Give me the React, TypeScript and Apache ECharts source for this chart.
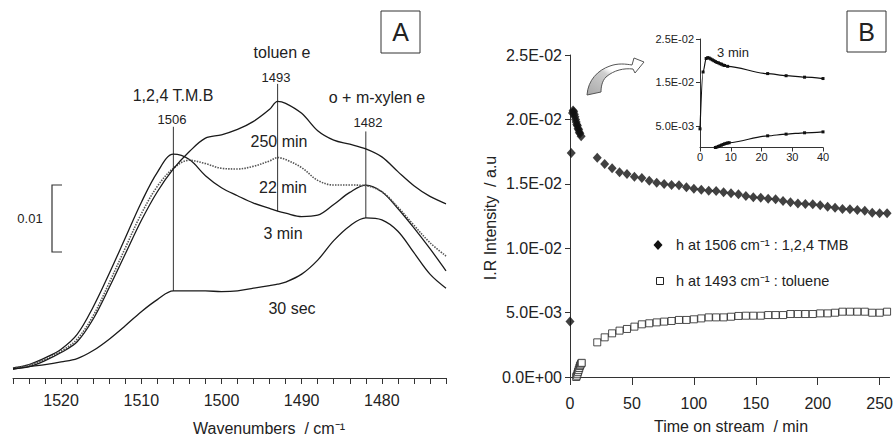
import React, { useEffect, useRef } from 'react';
import * as echarts from 'echarts';

// ---------- Panel A : IR spectra ----------
const wavenumbers = [1526, 1524, 1522, 1520, 1518, 1516, 1514, 1512, 1510, 1508, 1506, 1504, 1502, 1500, 1498, 1496, 1494, 1493, 1492, 1490, 1488, 1486, 1484, 1482, 1480, 1478, 1476, 1474, 1472];
const spec30sec = [0.0013, 0.0017, 0.0020, 0.0024, 0.0029, 0.0041, 0.0058, 0.0078, 0.0099, 0.0117, 0.0130, 0.0130, 0.0130, 0.0129, 0.0130, 0.0134, 0.0138, 0.0140, 0.0143, 0.0155, 0.0176, 0.0205, 0.0227, 0.0239, 0.0236, 0.0219, 0.0187, 0.0155, 0.0134];
const spec3min = [0.0015, 0.0020, 0.0030, 0.0043, 0.0065, 0.0106, 0.0156, 0.0209, 0.0262, 0.0307, 0.0334, 0.0326, 0.0302, 0.0284, 0.0272, 0.0261, 0.0253, 0.0249, 0.0246, 0.0241, 0.0243, 0.0259, 0.0277, 0.0288, 0.0278, 0.0253, 0.0224, 0.0193, 0.0160];
const spec22min = [0.0015, 0.0019, 0.0028, 0.0040, 0.0058, 0.0093, 0.0142, 0.0194, 0.0245, 0.0286, 0.0313, 0.0325, 0.0320, 0.0313, 0.0312, 0.0316, 0.0324, 0.0329, 0.0326, 0.0314, 0.0295, 0.0288, 0.0288, 0.0287, 0.0278, 0.0255, 0.0228, 0.0202, 0.0182];
const spec250min = [0.0014, 0.0017, 0.0026, 0.0038, 0.0054, 0.0088, 0.0135, 0.0185, 0.0235, 0.0278, 0.0312, 0.0338, 0.0358, 0.0363, 0.0371, 0.0383, 0.0401, 0.0413, 0.0410, 0.0395, 0.0369, 0.0355, 0.0349, 0.0342, 0.0330, 0.0308, 0.0287, 0.0271, 0.0260];
const peakPositions = [1506, 1493, 1482];
const peakLineTop = [0.0375, 0.0439, 0.0368];
const peakLineBottom = [0.0130, 0.0249, 0.0239];

// ---------- Panel B : intensity vs time (values in units of 1e-3) ----------
const tmbEarlyTimes = [0, 1, 2, 2.5, 3, 3.5, 4, 4.5, 5, 5.5, 6, 6.5, 7, 7.5, 8, 9];
const tmbEarly = [4.3, 17.4, 20.5, 20.7, 20.6, 20.4, 20.2, 20.0, 19.8, 19.6, 19.5, 19.3, 19.2, 19.0, 18.9, 18.7];
const tolEarlyTimes = [5, 5.5, 6, 6.5, 7, 7.5, 8, 8.5, 9, 9.5];
const tolEarly = [0.0, 0.1, 0.25, 0.4, 0.55, 0.7, 0.85, 0.95, 1.05, 1.1];
const mainTimes = [22, 28, 34, 40, 46, 52, 58, 64, 70, 76, 82, 88, 94, 100, 106, 112, 118, 124, 130, 136, 142, 148, 154, 160, 166, 172, 178, 184, 190, 196, 202, 208, 214, 220, 226, 232, 238, 244, 250, 256];
const tmbMain = [17.03, 16.54, 16.20, 15.89, 15.76, 15.55, 15.45, 15.24, 15.09, 14.98, 14.91, 14.88, 14.73, 14.62, 14.54, 14.47, 14.44, 14.34, 14.26, 14.18, 14.05, 13.95, 13.92, 13.84, 13.80, 13.66, 13.56, 13.48, 13.43, 13.41, 13.33, 13.22, 13.14, 13.04, 13.02, 12.97, 12.91, 12.76, 12.71, 12.71];
const tolMain = [2.69, 3.08, 3.39, 3.60, 3.73, 3.91, 4.09, 4.17, 4.24, 4.30, 4.35, 4.43, 4.43, 4.48, 4.55, 4.63, 4.63, 4.63, 4.68, 4.74, 4.76, 4.76, 4.76, 4.81, 4.81, 4.81, 4.89, 4.89, 4.89, 4.89, 4.94, 4.94, 4.99, 5.07, 5.07, 5.07, 5.07, 4.99, 4.99, 5.07];
const timeTicks = [0, 50, 100, 150, 200, 250];
const insetYTicks = [0.005, 0.015, 0.025];

const FONT = "'Liberation Sans', Arial, sans-serif";
const INK = '#222';

const ARROW_D = 'M7 45 C8 30 18 20 30 16 C38 13 46 14 52 15 L54 8 L64 12 L55 23 L53 19 C44 18 34 20 26 27 C22 31 21 37 21 42 Z';
try {
  echarts.graphic.registerShape('bentArrow', echarts.graphic.extendPath(ARROW_D, {}) as any);
} catch (e) {
  /* already registered */
}

const sci = (v: number) => {
  if (Math.abs(v) < 1e-12) return '0.0E+00';
  const e = Math.floor(Math.log10(Math.abs(v)) + 1e-9);
  const m = v / Math.pow(10, e);
  return m.toFixed(1) + 'E' + (e < 0 ? '-' : '+') + String(Math.abs(e)).padStart(2, '0');
};

const pairs = (xs: number[], ys: number[], k = 1) => xs.map((x, i) => [x, ys[i] * k]);

const txt = (text: string, x: number, y: number, size: number, extra: any = {}) => ({
  type: 'text',
  x,
  y,
  z: 20,
  style: { text, fill: INK, fontSize: size, fontFamily: FONT, align: 'center', verticalAlign: 'middle', ...extra },
});

export default function App() {
  const ref = useRef<HTMLDivElement>(null);

  useEffect(() => {
    document.body.style.margin = '0';
    const chart = echarts.init(ref.current!, null, { renderer: 'svg' });

    const specLine = (name: string, arr: number[], dotted = false) => ({
      name,
      type: 'line',
      xAxisIndex: 0,
      yAxisIndex: 0,
      data: pairs(wavenumbers, arr),
      showSymbol: false,
      smooth: 0.35,
      lineStyle: dotted ? { color: '#555', width: 1.6, type: [1.5, 1.2] } : { color: '#1a1a1a', width: 1.3 },
      z: 3,
    });

    const tmbAll = [...pairs(tmbEarlyTimes, tmbEarly, 1e-3), ...pairs(mainTimes, tmbMain, 1e-3)];
    const tolAll = [...pairs(tolEarlyTimes, tolEarly, 1e-3), ...pairs(mainTimes, tolMain, 1e-3)];

    const axisLineStyle = { show: true, lineStyle: { color: '#333', width: 1 } };

    const option: any = {
      animation: false,
      textStyle: { fontFamily: FONT, color: INK },
      grid: [
        { left: 13, top: 43, width: 433, height: 335 },
        { left: 570, top: 55, width: 322, height: 322 },
        { left: 700, top: 39, width: 123, height: 108.5 },
      ],
      xAxis: [
        {
          gridIndex: 0, type: 'value', min: 1472, max: 1526, interval: 2, inverse: true,
          axisLine: axisLineStyle,
          axisTick: { show: true, length: 6, lineStyle: { color: '#333' } },
          axisLabel: { fontSize: 16, color: INK, margin: 14, formatter: (v: number) => (v % 10 === 0 ? String(v) : '') },
          splitLine: { show: false },
        },
        {
          gridIndex: 1, type: 'value', min: 0, max: 258,
          axisLine: axisLineStyle,
          axisTick: { show: true, length: 8, customValues: timeTicks, lineStyle: { color: '#333' } },
          axisLabel: { fontSize: 16, color: INK, margin: 18, customValues: timeTicks },
          splitLine: { show: false },
        },
        {
          gridIndex: 2, type: 'value', min: 0, max: 40, interval: 10,
          axisLine: axisLineStyle,
          axisTick: { show: true, length: 4, lineStyle: { color: '#333' } },
          axisLabel: { fontSize: 11, color: INK, margin: 4 },
          splitLine: { show: false },
        },
      ],
      yAxis: [
        { gridIndex: 0, type: 'value', min: 0, max: 0.05, show: false },
        {
          gridIndex: 1, type: 'value', min: 0, max: 0.025, interval: 0.005,
          axisLine: axisLineStyle,
          axisTick: { show: true, length: 5, lineStyle: { color: '#333' } },
          axisLabel: { fontSize: 16, color: INK, margin: 8, formatter: sci },
          splitLine: { show: false },
        },
        {
          gridIndex: 2, type: 'value', min: 0, max: 0.025,
          axisLine: axisLineStyle,
          axisTick: { show: true, length: 4, customValues: insetYTicks, lineStyle: { color: '#333' } },
          axisLabel: { fontSize: 11, color: INK, margin: 6, customValues: insetYTicks, formatter: sci },
          splitLine: { show: false },
        },
      ],
      series: [
        specLine('30 sec', spec30sec),
        specLine('3 min', spec3min),
        specLine('22 min', spec22min, true),
        specLine('250 min', spec250min),
        ...peakPositions.map((w, i) => ({
          name: 'peak ' + w,
          type: 'line',
          xAxisIndex: 0,
          yAxisIndex: 0,
          data: [[w, peakLineTop[i]], [w, peakLineBottom[i]]],
          showSymbol: false,
          lineStyle: { color: '#333', width: 1 },
          z: 2,
        })),
        {
          name: 'h at 1506 cm-1 : 1,2,4 TMB',
          type: 'scatter',
          xAxisIndex: 1,
          yAxisIndex: 1,
          data: tmbAll,
          symbol: 'diamond',
          symbolSize: [9, 10],
          itemStyle: { color: '#111' },
          z: 4,
        },
        {
          name: 'h at 1493 cm-1 : toluene',
          type: 'scatter',
          xAxisIndex: 1,
          yAxisIndex: 1,
          data: tolAll,
          symbol: 'rect',
          symbolSize: 7,
          itemStyle: { color: '#fff', borderColor: '#222', borderWidth: 1 },
          z: 3,
        },
        {
          name: 'inset TMB',
          type: 'line',
          xAxisIndex: 2,
          yAxisIndex: 2,
          data: tmbAll.filter((p) => p[0] <= 40),
          smooth: 0.3,
          smoothMonotone: 'x',
          symbol: 'rect',
          symbolSize: 3,
          itemStyle: { color: '#111' },
          lineStyle: { color: '#111', width: 1.2 },
        },
        {
          name: 'inset toluene',
          type: 'line',
          xAxisIndex: 2,
          yAxisIndex: 2,
          data: tolAll.filter((p) => p[0] <= 40),
          smooth: 0.3,
          smoothMonotone: 'x',
          symbol: 'rect',
          symbolSize: 3,
          itemStyle: { color: '#111' },
          lineStyle: { color: '#111', width: 1.2 },
        },
      ],
      graphic: [
        // Panel A annotations
        { type: 'rect', z: 20, shape: { x: 381, y: 11, width: 39, height: 42 }, style: { fill: '#fff', stroke: '#333', lineWidth: 1 } },
        txt('A', 400.5, 32, 25),
        txt('1,2,4 T.M.B', 173, 95, 16),
        txt('1506', 172, 119, 13),
        txt('toluen e', 282, 52, 16),
        txt('1493', 276, 77, 13),
        txt('o + m-xylen e', 377, 97, 16),
        txt('1482', 368, 122, 13),
        txt('250 min', 279, 141, 16),
        txt('22 min', 283, 187, 16),
        txt('3 min', 283, 233, 16),
        txt('30 sec', 292, 308, 16),
        { type: 'polyline', z: 20, shape: { points: [[62, 185], [52, 185], [52, 252], [62, 252]] }, style: { fill: 'none', stroke: '#333', lineWidth: 1.2 } },
        txt('0.01', 30, 218, 13),
        txt('Wavenumbers  / cm\u207B\u00B9', 269, 428, 16),
        // Panel B annotations
        { type: 'rect', z: 20, shape: { x: 847, y: 11, width: 39, height: 41 }, style: { fill: '#fff', stroke: '#333', lineWidth: 1 } },
        txt('B', 866.5, 31.5, 25),
        txt('3 min', 733, 52, 13),
        txt('Time on stream  / min', 731, 426, 16),
        { type: 'text', x: 490, y: 218, rotation: Math.PI / 2, z: 20, style: { text: 'I.R Intensity  / a.u', fill: INK, fontSize: 16, fontFamily: FONT, align: 'center', verticalAlign: 'middle' } },
        { type: 'polygon', z: 20, shape: { points: [[658, 240], [662.5, 245], [658, 250], [653.5, 245]] }, style: { fill: '#111' } },
        txt('h at 1506 cm\u207B\u00B9 : 1,2,4 TMB', 676, 245, 14.5, { align: 'left' }),
        { type: 'rect', z: 20, shape: { x: 656.5, y: 277.5, width: 7, height: 7 }, style: { fill: '#fff', stroke: '#222', lineWidth: 1 } },
        txt('h at 1493 cm\u207B\u00B9 : toluene', 676, 281, 14.5, { align: 'left' }),
        {
          type: 'bentArrow',
          x: 580,
          y: 50,
          z: 20,
          style: {
            fill: {
              type: 'linear', x: 0, y: 1, x2: 1, y2: 0,
              colorStops: [
                { offset: 0, color: '#a8a8a8' },
                { offset: 0.45, color: '#cfcfcf' },
                { offset: 0.55, color: '#ffffff' },
                { offset: 1, color: '#ffffff' },
              ],
            },
            stroke: '#555',
            lineWidth: 1,
          },
        },
      ],
    };

    chart.setOption(option);
    return () => chart.dispose();
  }, []);

  return <div ref={ref} style={{ width: 896, height: 444 }} />;
}
